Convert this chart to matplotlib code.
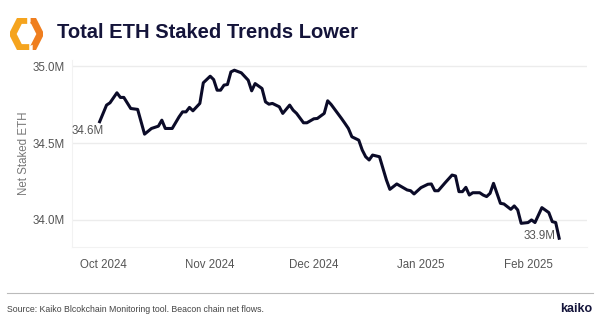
import numpy as np
import pandas as pd
import matplotlib
matplotlib.use("Agg")
import matplotlib.pyplot as plt
import matplotlib.dates as mdates
from matplotlib.ticker import FuncFormatter

plt.rcParams['font.family'] = ['Liberation Sans', 'DejaVu Sans']

# Net staked ETH (millions)
dates = [
    "2024-09-30", "2024-10-02", "2024-10-03", "2024-10-05", "2024-10-06", "2024-10-07",
    "2024-10-09", "2024-10-11", "2024-10-13", "2024-10-15", "2024-10-17", "2024-10-18",
    "2024-10-19", "2024-10-21", "2024-10-23", "2024-10-24", "2024-10-25", "2024-10-26",
    "2024-10-27", "2024-10-29", "2024-10-30", "2024-11-01", "2024-11-02", "2024-11-03",
    "2024-11-04", "2024-11-05", "2024-11-06", "2024-11-07", "2024-11-08", "2024-11-10",
    "2024-11-12", "2024-11-13", "2024-11-14", "2024-11-16", "2024-11-17", "2024-11-18",
    "2024-11-19", "2024-11-21", "2024-11-22", "2024-11-24", "2024-11-25", "2024-11-26",
    "2024-11-28", "2024-11-29", "2024-12-01", "2024-12-02", "2024-12-04", "2024-12-05",
    "2024-12-06", "2024-12-09", "2024-12-10", "2024-12-11", "2024-12-12", "2024-12-14",
    "2024-12-15", "2024-12-16", "2024-12-17", "2024-12-18", "2024-12-20", "2024-12-22",
    "2024-12-23", "2024-12-25", "2024-12-28", "2024-12-29", "2024-12-30", "2025-01-01",
    "2025-01-03", "2025-01-04", "2025-01-05", "2025-01-06", "2025-01-08", "2025-01-10",
    "2025-01-11", "2025-01-12", "2025-01-13", "2025-01-14", "2025-01-15", "2025-01-16",
    "2025-01-18", "2025-01-19", "2025-01-20", "2025-01-21", "2025-01-22", "2025-01-23",
    "2025-01-24", "2025-01-25", "2025-01-27", "2025-01-28", "2025-01-29", "2025-01-30",
    "2025-02-01", "2025-02-02", "2025-02-03", "2025-02-05", "2025-02-07", "2025-02-08",
    "2025-02-09", "2025-02-10",
]
staked = [
    34.639, 34.747, 34.762, 34.827, 34.797, 34.797,
    34.725, 34.719, 34.558, 34.595, 34.610, 34.649,
    34.595, 34.595, 34.671, 34.703, 34.703, 34.732,
    34.710, 34.758, 34.892, 34.935, 34.913, 34.844,
    34.844, 34.877, 34.881, 34.963, 34.974, 34.957,
    34.909, 34.840, 34.887, 34.855, 34.768, 34.753,
    34.758, 34.736, 34.693, 34.747, 34.714, 34.693,
    34.632, 34.632, 34.658, 34.660, 34.693, 34.775,
    34.751, 34.660, 34.628, 34.595, 34.541, 34.519,
    34.455, 34.411, 34.390, 34.422, 34.411, 34.260,
    34.199, 34.234, 34.195, 34.190, 34.169, 34.210,
    34.232, 34.234, 34.190, 34.190, 34.242, 34.292,
    34.286, 34.184, 34.184, 34.212, 34.162, 34.177,
    34.177, 34.162, 34.152, 34.173, 34.238, 34.173,
    34.108, 34.104, 34.069, 34.091, 34.065, 33.978,
    33.983, 34.000, 33.983, 34.080, 34.048, 33.989,
    33.983, 33.881,
]
month_ticks = ["2024-10-01", "2024-11-01", "2024-12-01", "2025-01-01", "2025-02-01"]
y_ticks = [34.0, 34.5, 35.0]

x = pd.to_datetime(dates)

fig = plt.figure(figsize=(6, 3.3), dpi=100)
ax = fig.add_axes([0.12, 0.252, 0.858, 0.566])

ax.plot(x, staked, color="#0b0b28", lw=2.2, solid_joinstyle="round")

ax.set_xlim(pd.Timestamp("2024-09-22"), pd.Timestamp("2025-02-18"))
ax.set_ylim(33.825, 35.04)
ax.set_yticks(y_ticks)
ax.yaxis.set_major_formatter(FuncFormatter(lambda v, p: f"{v:.1f}M"))
ax.set_xticks(pd.to_datetime(month_ticks))
ax.xaxis.set_major_formatter(mdates.DateFormatter("%b %Y"))
ax.tick_params(length=0, labelsize=8.3, labelcolor="#555555")
ax.tick_params(axis="x", pad=9)
ax.tick_params(axis="y", pad=5)
ax.grid(axis="y", color="#ececec", lw=1)
ax.set_axisbelow(True)
for side in ["top", "right"]:
    ax.spines[side].set_visible(False)
for side in ["left", "bottom"]:
    ax.spines[side].set_color("#f2f2f2")
ax.set_ylabel("Net Staked ETH", fontsize=8.3, color="#777777", labelpad=2)

# end-point labels
ax.annotate(f"{staked[0]:.1f}M", (x[0], staked[0]), xytext=(4, -9),
            textcoords="offset pixels", ha="right", va="center",
            fontsize=8.3, color="#555555")
ax.annotate(f"{staked[-1]:.1f}M", (x[-1], staked[-1]), xytext=(-4, 2),
            textcoords="offset pixels", ha="right", va="center",
            fontsize=8.3, color="#555555")

# title + logo
fig.text(57 / 600, 1 - 33 / 330, "Total ETH Staked Trends Lower", fontsize=14.5,
         fontweight="bold", color="#14143a", va="center", ha="left")
lax = fig.add_axes([10 / 600, 1 - 50 / 330, 33 / 600, 32 / 330])
lax.set_xlim(-1.2, 1.2)
lax.set_ylim(-1.02, 1.02)
lax.axis("off")
ang = np.radians(np.arange(0, 361, 60))
hx, hy = np.cos(ang), np.sin(ang)
# left piece: from top edge through left vertex to bottom edge
lax.plot([0.05, hx[2], hx[3], hx[4], 0.2], [hy[2], hy[2], hy[3], hy[4], hy[4]],
         color="#f5a41e", lw=5, solid_capstyle="butt", solid_joinstyle="miter")
lax.plot([0.3, hx[1], hx[0], hx[5], 0.45], [hy[1], hy[1], hy[0], hy[5], hy[5]],
         color="#ef7e1f", lw=5, solid_capstyle="butt", solid_joinstyle="miter")

# footer
fig.add_artist(plt.Line2D([7 / 600, 593 / 600], [1 - 293 / 330, 1 - 293 / 330],
                          color="#bbbbbb", lw=0.8))
fig.text(7 / 600, 1 - 310 / 330,
         "Source: Kaiko Blcokchain Monitoring tool. Beacon chain net flows.",
         fontsize=6.3, color="#444444", va="center", ha="left")
fig.text(592 / 600, 1 - 309 / 330, "kaiko", fontsize=9, fontweight="bold",
         color="#14143a", va="center", ha="right")

fig.savefig("out.png", dpi=100)
